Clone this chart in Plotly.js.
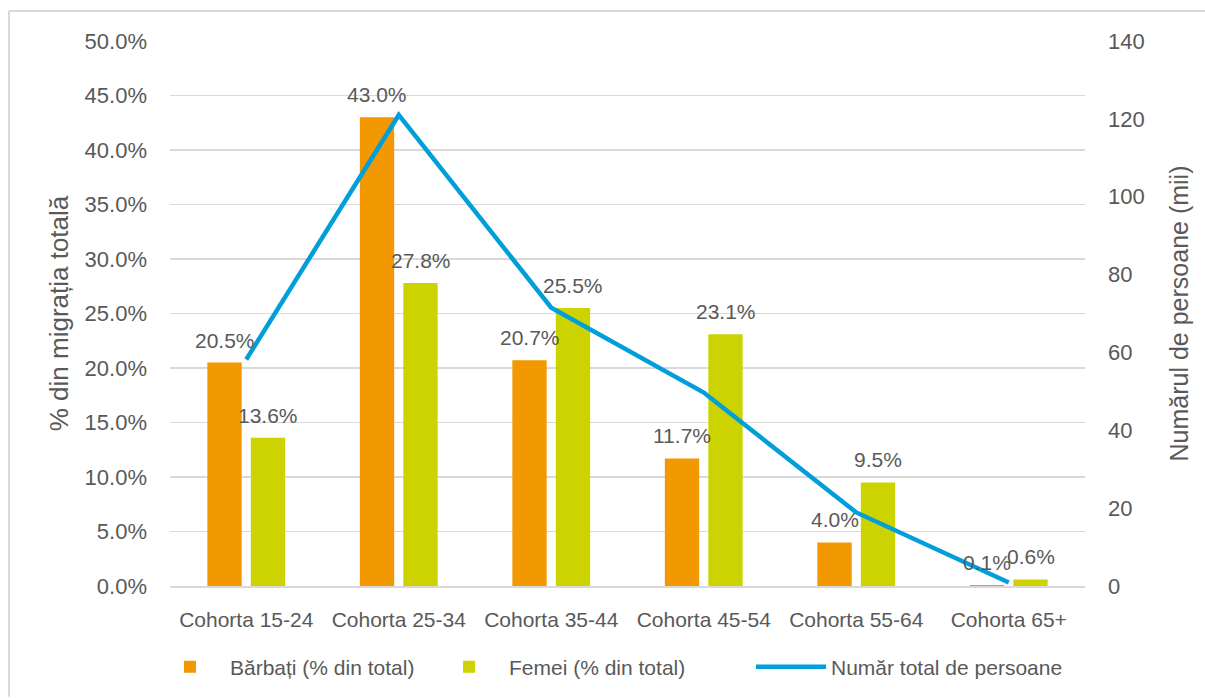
<!DOCTYPE html>
<html>
<head>
<meta charset="utf-8">
<script src="https://cdn.plot.ly/plotly-3.0.1.min.js"></script>
<style>
  html, body { margin: 0; padding: 0; background: #fff; }
  #chart { width: 1205px; height: 698px; }
</style>
</head>
<body>
<div id="chart"></div>
<script>
// Migration by age cohort: share of men / women (% of total) and total persons (thousands)
var cohorts = ["Cohorta 15-24", "Cohorta 25-34", "Cohorta 35-44", "Cohorta 45-54", "Cohorta 55-64", "Cohorta 65+"];
var barbati = [20.5, 43.0, 20.7, 11.7, 4.0, 0.1];
var femei = [13.6, 27.8, 25.5, 23.1, 9.5, 0.6];
var totalPersoane = [58.2, 121.0, 71.5, 49.7, 18.9, 0.9];

var seriesNames = ["Bărbați (% din total)", "Femei (% din total)", "Număr total de persoane"];
var axisTitles = { left: "% din migrația totală", right: "Numărul de persoane (mii)" };

var GREY = "#595959";
var FONT = "Liberation Sans, Arial, sans-serif";
var ORANGE = "#F29800";
var GREEN = "#CCD300";
var BLUE = "#009FD9";

// plot area in px: x 170..1085, y 41..587
var W = 1205, H = 698, L = 170, R = 120, T = 41, B = 111;
var pw = W - L - R, ph = H - T - B;
function px2x(p) { return (p - L) / pw; }
function px2y(p) { return (H - B - p) / ph; }

var traces = [
  {
    type: "bar", name: seriesNames[0], x: cohorts, y: barbati, legend: "legend",
    marker: { color: ORANGE }, hoverinfo: "skip"
  },
  {
    type: "bar", name: seriesNames[1], x: cohorts, y: femei, legend: "legend2",
    marker: { color: GREEN }, hoverinfo: "skip"
  },
  {
    type: "scatter", mode: "lines", name: seriesNames[2], x: cohorts, y: totalPersoane,
    yaxis: "y2", legend: "legend3", line: { color: BLUE, width: 4.5 }, hoverinfo: "skip"
  }
];

// data labels above each bar, shifted to its slot in the group
var slot = 21.75;
var annotations = [];
function addLabels(vals, shift) {
  for (var i = 0; i < cohorts.length; i++) {
    annotations.push({
      x: cohorts[i], y: vals[i], xref: "x", yref: "y",
      text: vals[i].toFixed(1) + "%", showarrow: false,
      xanchor: "center", yanchor: "bottom", xshift: shift, yshift: 9,
      font: { family: FONT, size: 21, color: GREY }
    });
  }
}
addLabels(barbati, -slot);
addLabels(femei, slot);

// one legend box per series so each entry sits where the original has it
function legendAt(textLeft) {
  return {
    orientation: "h", x: px2x(textLeft - 80), xanchor: "left", y: px2y(667), yanchor: "middle",
    font: { family: FONT, size: 21, color: GREY }, itemwidth: 70, bgcolor: "rgba(0,0,0,0)"
  };
}

var layout = {
  width: W, height: H,
  margin: { l: L, r: R, t: T, b: B, pad: 0 },
  paper_bgcolor: "#fff", plot_bgcolor: "#fff",
  font: { family: FONT, color: GREY, size: 21 },
  barmode: "group", bargap: 0.43, bargroupgap: 0.21,
  showlegend: true,
  legend: legendAt(230),
  legend2: legendAt(509),
  legend3: legendAt(831),
  xaxis: {
    type: "category", showgrid: false, showline: true, linecolor: "#D9D9D9", linewidth: 1.5,
    ticks: "", ticklabelstandoff: 14, tickfont: { family: FONT, size: 21, color: GREY },
    fixedrange: true
  },
  yaxis: {
    range: [0, 50], dtick: 5, tick0: 0, tickformat: ".1f", ticksuffix: "%",
    showgrid: true, gridcolor: "#D9D9D9", gridwidth: 1.5, zeroline: false,
    ticks: "", ticklabelstandoff: 22, tickfont: { family: FONT, size: 22, color: GREY },
    title: { text: axisTitles.left, font: { family: FONT, size: 26, color: GREY }, standoff: 8 },
    fixedrange: true
  },
  yaxis2: {
    overlaying: "y", side: "right", range: [0, 140], dtick: 20, tick0: 0,
    showgrid: false, zeroline: false, ticks: "", ticklabelstandoff: 22,
    tickfont: { family: FONT, size: 22, color: GREY },
    title: { text: axisTitles.right, font: { family: FONT, size: 25, color: GREY }, standoff: 26 },
    fixedrange: true
  },
  annotations: annotations,
  shapes: [
    { type: "line", xref: "paper", yref: "paper", x0: px2x(9), x1: px2x(1205), y0: px2y(11), y1: px2y(11),
      line: { color: "#D9D9D9", width: 2 } },
    { type: "line", xref: "paper", yref: "paper", x0: px2x(9), x1: px2x(9), y0: px2y(11), y1: px2y(698),
      line: { color: "#D9D9D9", width: 2 } }
  ]
};

Plotly.newPlot("chart", traces, layout, { displayModeBar: false, staticPlot: true });
</script>
</body>
</html>
